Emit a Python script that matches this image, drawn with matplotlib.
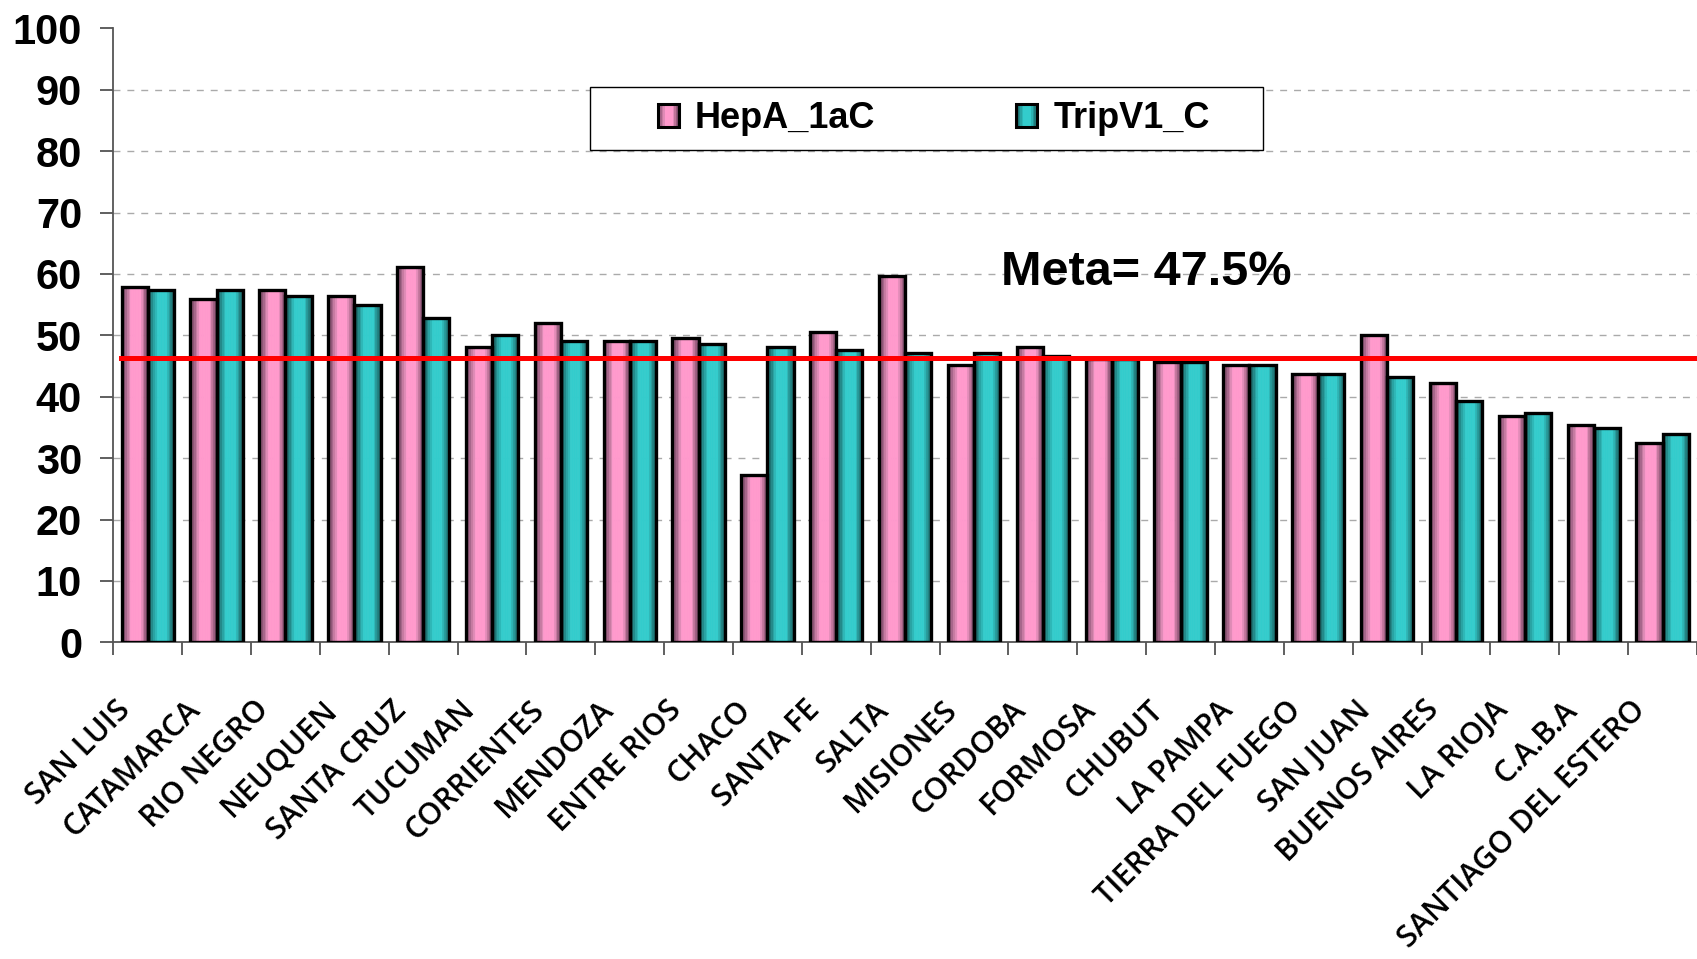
import matplotlib

matplotlib.use("Agg")
import matplotlib.pyplot as plt
import numpy as np
from matplotlib.legend_handler import HandlerBase
from matplotlib.patches import Rectangle
from matplotlib.transforms import ScaledTranslation

provincias = [
    "SAN LUIS", "CATAMARCA", "RIO NEGRO", "NEUQUEN", "SANTA CRUZ", "TUCUMAN",
    "CORRIENTES", "MENDOZA", "ENTRE RIOS", "CHACO", "SANTA FE", "SALTA",
    "MISIONES", "CORDOBA", "FORMOSA", "CHUBUT", "LA PAMPA", "TIERRA DEL FUEGO",
    "SAN JUAN", "BUENOS AIRES", "LA RIOJA", "C.A.B.A", "SANTIAGO DEL ESTERO",
]
hepa_1ac = [57.8, 55.9, 57.3, 56.4, 61.2, 48.1, 52.0, 49.0, 49.5, 27.2, 50.5, 59.7,
            45.1, 48.1, 46.1, 45.6, 45.2, 43.7, 50.1, 42.3, 36.9, 35.4, 32.5]
tripv1_c = [57.3, 57.3, 56.4, 54.9, 52.9, 50.0, 49.0, 49.0, 48.6, 48.1, 47.6, 47.1,
            47.1, 46.6, 46.1, 45.6, 45.2, 43.7, 43.2, 39.3, 37.4, 34.9, 33.9]
meta_linea = 46.35
meta_texto = "Meta= 47.5%"
y_ticks = [0, 10, 20, 30, 40, 50, 60, 70, 80, 90, 100]

# franjas verticales tipo "cilindro" de Excel: oscuro, medio, claro, medio, oscuro
rosa = ["#7a4866", "#8e5676", "#a8668b", "#c87ba2", "#e08bb7", "#ff99cc", "#ff99cc",
        "#ff99cc", "#ff99cc", "#ff99cc", "#ff99cc", "#e28bb8", "#c07399", "#9a5c7e",
        "#7e4c6a"]
turq = ["#185e5e", "#1d7373", "#228a8a", "#28a4a4", "#2db8b8", "#33cccc", "#33cccc",
        "#33cccc", "#33cccc", "#33cccc", "#33cccc", "#2cb3b3", "#259797", "#1f7d7d",
        "#1a6868"]


class HandlerFranjas(HandlerBase):
    def __init__(self, colores):
        super().__init__()
        self.colores = colores

    def create_artists(self, legend, orig_handle, xdescent, ydescent, width,
                       height, fontsize, trans):
        n = len(self.colores)
        arts = []
        for k, c in enumerate(self.colores):
            r = Rectangle((-xdescent + k * width / n, -ydescent), width / n * 1.05, height,
                          facecolor=c, edgecolor="none", transform=trans)
            arts.append(r)
        borde = Rectangle((-xdescent, -ydescent), width, height, facecolor="none",
                          edgecolor="black", lw=2.2, transform=trans)
        arts.append(borde)
        return arts


def barras_cilindro(ax, centros, valores, ancho, colores):
    # cada barra se compone de franjas finas y un contorno negro encima
    n = len(colores)
    paso = ancho / n
    for k, c in enumerate(colores):
        ax.bar(centros - ancho / 2 + (k + 0.5) * paso, valores, paso, color=c,
               edgecolor=c, lw=0.5, zorder=2)
    ax.bar(centros, valores, ancho, facecolor="none", edgecolor="black", lw=2.4, zorder=3)


fig = plt.figure(figsize=(16.97, 9.59), dpi=100)
ax = fig.add_axes([0.0668, 0.3302, 0.9332, 0.6403])

x = np.arange(len(provincias))
w = 0.38
barras_cilindro(ax, x - 0.19, hepa_1ac, w, rosa)
barras_cilindro(ax, x + 0.19, tripv1_c, w, turq)

ax.axhline(meta_linea, xmin=0.005, color="red", lw=3.6, zorder=4)
ax.text(12.39, 60.3, meta_texto, ha="left", va="center", fontsize=35,
        fontweight="bold", family="Liberation Sans", zorder=5)

ax.set_xlim(-0.5, len(provincias) - 0.5)
ax.set_ylim(0, 100)

# ejes
for lado in ("top", "right"):
    ax.spines[lado].set_visible(False)
for lado in ("left", "bottom"):
    ax.spines[lado].set_color("#555555")
    ax.spines[lado].set_linewidth(1.3)

ax.set_yticks(y_ticks)
ax.set_yticklabels([str(v) for v in y_ticks], fontsize=30, fontweight="bold",
                   family="Liberation Sans")
ax.tick_params(axis="y", direction="out", length=9.5, width=1.2, color="#444444", pad=13)
ax.yaxis.grid(True, linestyle=(0, (5, 5)), color="#aaaaaa", lw=1.0)
ax.set_axisbelow(True)
for gl in ax.yaxis.get_gridlines()[-1:]:
    gl.set_visible(False)

# marcas entre categorias, etiquetas en el centro
ax.set_xticks(np.arange(-0.5, len(provincias), 1.0))
ax.set_xticklabels([])
ax.tick_params(axis="x", which="major", direction="out", length=9, width=1.2, color="#444444")
ax.set_xticks(x, minor=True)
ax.set_xticklabels(provincias, minor=True, rotation=45, ha="right",
                   rotation_mode="anchor", fontsize=22, family="Open Sans",
                   fontweight="semibold")
ax.tick_params(axis="x", which="minor", length=0, pad=38)
desplaza = ScaledTranslation(-32 / 100, 0, fig.dpi_scale_trans)
for lab in ax.get_xticklabels(minor=True):
    lab.set_transform(lab.get_transform() + desplaza)

# leyenda: marco propio mas ancho que el contenido, como en el original
ax.add_patch(Rectangle((0.301, 0.802), 0.425, 0.102, transform=ax.transAxes,
                       facecolor="white", edgecolor="black", lw=1.0, zorder=5))
h1 = Rectangle((0, 0), 1, 1)
h2 = Rectangle((0, 0), 1, 1)
leg = ax.legend([h1, h2], ["HepA_1aC", "TripV1_C"], loc="center", ncol=2,
                bbox_to_anchor=(0.518, 0.853),
                prop={"family": "Liberation Sans", "weight": "bold", "size": 26},
                handler_map={h1: HandlerFranjas(rosa), h2: HandlerFranjas(turq)},
                handlelength=0.58, handleheight=0.58, handletextpad=0.45,
                columnspacing=3.9, frameon=False)
leg.set_zorder(6)

fig.savefig("out.png", dpi=100)
